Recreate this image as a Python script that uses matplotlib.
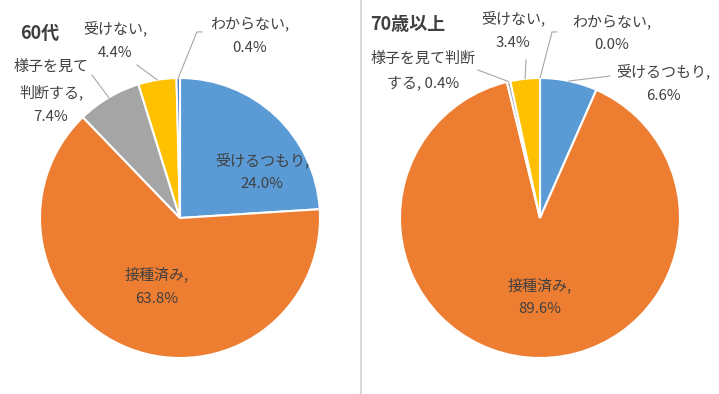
import matplotlib
matplotlib.use("Agg")
import matplotlib.pyplot as plt
import numpy as np
from matplotlib.lines import Line2D

plt.rcParams['font.family'] = ['Noto Sans CJK JP', 'DejaVu Sans']

# data
categories = ["受けるつもり", "接種済み", "様子を見て判断する", "受けない", "わからない"]
vals_60 = [24.0, 63.8, 7.4, 4.4, 0.4]
vals_70 = [6.6, 89.6, 0.4, 3.4, 0.0]
colors = ["#5B9BD5", "#ED7D31", "#A5A5A5", "#FFC000", "#4472C4"]
txt_col = "#404040"

fig = plt.figure(figsize=(7.19, 3.94), dpi=100)
W, H = 719, 394

def pie_axes(cx):
    return fig.add_axes([(cx - 140) / W, (394 - 358) / H, 280 / W, 280 / H])

# label layouts: (text, text pos, leader end points or None)
lay_60 = [
    ("受けるつもり,\n24.0%", (0.586, 0.33), None),
    ("接種済み,\n63.8%", (-0.164, -0.486), None),
    ("様子を見て\n判断する,\n7.4%", (-0.921, 0.9), [(-0.629, 1.021)]),
    ("受けない,\n4.4%", (-0.464, 1.271), [(-0.307, 1.093)]),
    ("わからない,\n0.4%", (0.5, 1.3), [(0.121, 1.329), (0.157, 1.329)]),
]
lay_70 = [
    ("受けるつもり,\n6.6%", (0.879, 0.964), [(0.5, 1.014)]),
    ("接種済み,\n89.6%", (0.0, -0.564), None),
    ("様子を見て判断\nする, 0.4%", (-0.836, 1.05), [(-0.443, 1.057)]),
    ("受けない,\n3.4%", (-0.193, 1.343), [(-0.1, 1.129)]),
    ("わからない,\n0.0%", (0.514, 1.321), [(0.086, 1.329), (0.121, 1.329)]),
]

def draw(ax, vals, layout, title, tpos):
    ax.pie(vals, colors=colors, startangle=90, counterclock=False, radius=1,
           wedgeprops=dict(edgecolor="white", linewidth=1.5))
    ax.set_xlim(-1, 1)
    ax.set_ylim(-1, 1)
    ax.set_aspect("equal")
    ax.axis("off")
    cum = np.cumsum([0] + list(vals)) / sum(vals)
    for i, (t, pos, lead) in enumerate(layout):
        ax.text(pos[0], pos[1], t, ha="center", va="center", fontsize=10.8,
                color=txt_col, linespacing=1.85, clip_on=False)
        if lead:
            mid = (cum[i] + cum[i + 1]) / 2
            ang = np.deg2rad(90 - 360 * mid)
            xs = [np.cos(ang)] + [p[0] for p in lead]
            ys = [np.sin(ang)] + [p[1] for p in lead]
            ax.plot(xs, ys, color="#A6A6A6", lw=0.8, clip_on=False)
    ax.text(tpos[0], tpos[1], title, ha="center", va="center", fontsize=13,
            fontweight="bold", color=txt_col, clip_on=False)

ax1 = pie_axes(180)
draw(ax1, vals_60, lay_60, "60代", (-1.0, 1.321))
ax2 = pie_axes(540)
draw(ax2, vals_70, lay_70, "70歳以上", (-0.943, 1.379))

fig.add_artist(Line2D([361 / W, 361 / W], [0, 1], color="#D9D9D9", lw=1.5))

fig.savefig("out.png", dpi=100)
